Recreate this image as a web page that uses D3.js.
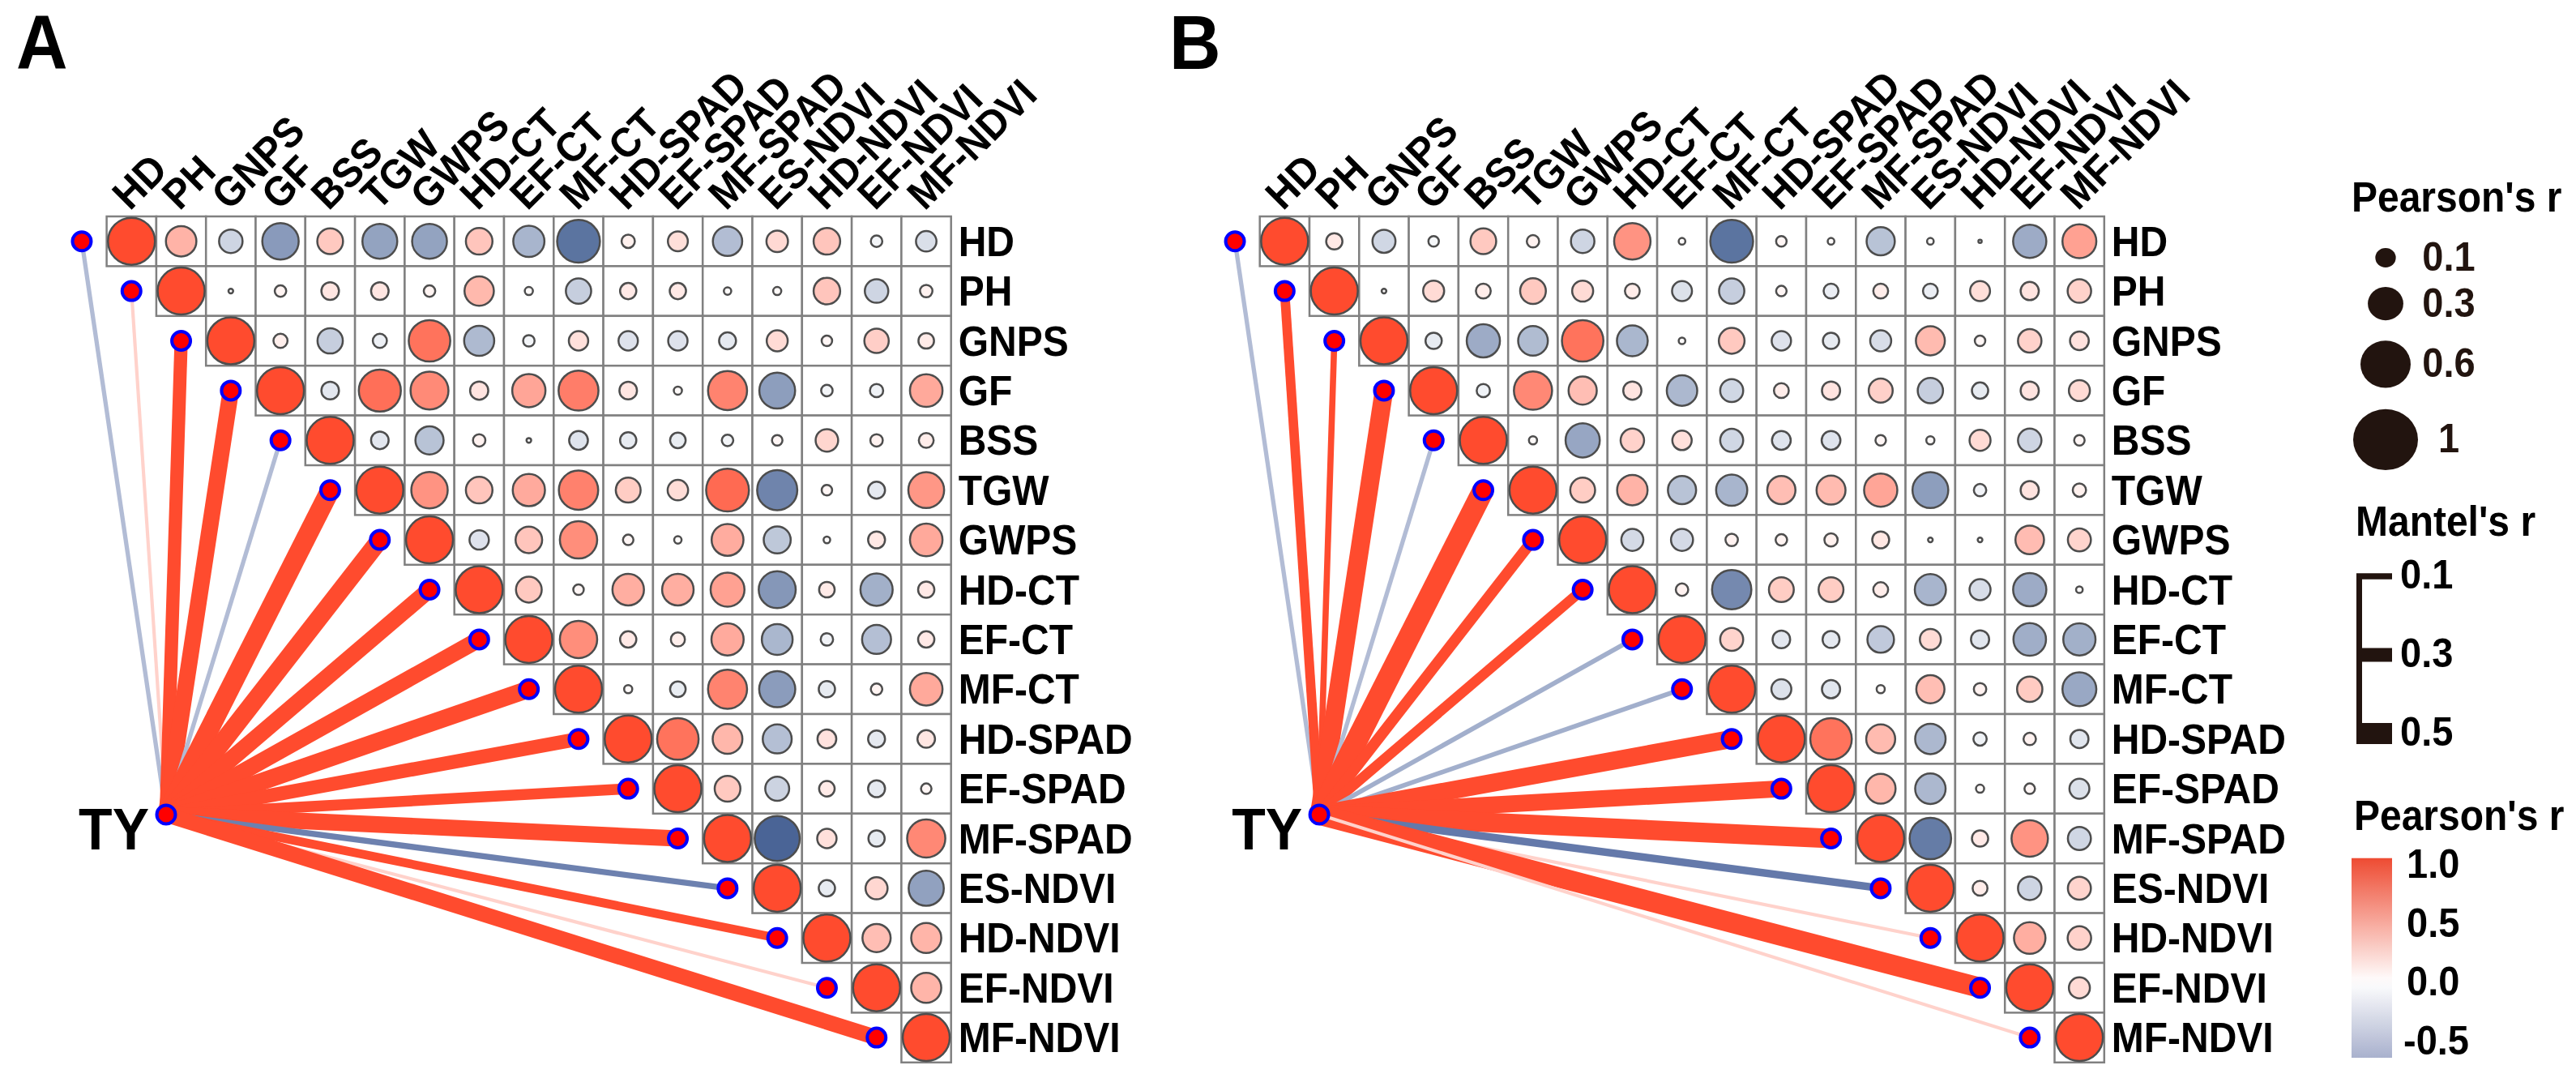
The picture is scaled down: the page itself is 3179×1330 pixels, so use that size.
<!DOCTYPE html>
<html>
<head>
<meta charset="utf-8">
<script src="https://cdn.jsdelivr.net/npm/d3@7"></script>
<style>
  body { margin: 0; background: #fff; }
  svg { display: block; }
  text { font-family: "Liberation Sans", Arial, sans-serif; font-weight: bold; }
</style>
</head>
<body>
<svg id="chart" width="3179" height="1330"></svg>
<script>
const vars = ["HD", "PH", "GNPS", "GF", "BSS", "TGW", "GWPS", "HD-CT", "EF-CT", "MF-CT",
  "HD-SPAD", "EF-SPAD", "MF-SPAD", "ES-NDVI", "HD-NDVI", "EF-NDVI", "MF-NDVI"];

// upper triangle: row i holds Pearson's r against columns i+1 .. 16
const corrA = [
  [0.42, -0.25, -0.6, 0.3, -0.55, -0.55, 0.32, -0.44, -0.83, 0.08, 0.18, -0.39, 0.21, 0.32, -0.06, -0.19],
  [0.01, 0.06, 0.14, 0.14, 0.06, 0.39, 0.03, -0.29, 0.12, 0.12, 0.025, 0.03, 0.32, -0.25, 0.07],
  [0.09, -0.29, -0.09, 0.78, -0.41, -0.06, 0.17, -0.17, -0.17, -0.13, 0.2, 0.05, 0.27, 0.11],
  [-0.14, 0.8, 0.65, 0.15, 0.5, 0.72, 0.14, 0.03, 0.69, -0.58, -0.06, -0.08, 0.48],
  [-0.14, -0.36, 0.07, 0.01, -0.16, -0.12, -0.11, -0.06, 0.05, 0.23, 0.07, 0.1],
  [0.6, 0.32, 0.47, 0.7, 0.28, 0.19, 0.83, -0.73, 0.05, -0.13, 0.58],
  [-0.17, 0.32, 0.63, 0.05, 0.025, 0.46, -0.33, 0.02, 0.13, 0.48],
  [0.3, 0.05, 0.45, 0.45, 0.52, -0.62, 0.11, -0.47, 0.12],
  [0.63, 0.12, 0.09, 0.47, -0.43, -0.07, -0.38, 0.12],
  [0.03, -0.11, 0.69, -0.59, -0.12, 0.06, 0.48],
  [0.78, 0.4, -0.38, 0.16, -0.13, 0.14],
  [0.3, -0.26, 0.11, -0.13, 0.05],
  [-0.92, 0.17, -0.12, 0.66],
  [-0.12, 0.22, -0.56],
  [0.36, 0.41],
  [0.41],
  []
];

const corrB = [
  [0.12, -0.24, -0.05, 0.3, 0.07, -0.25, 0.6, 0.02, -0.83, 0.05, 0.02, -0.36, 0.02, 0.005, -0.5, 0.52],
  [0.01, 0.2, 0.1, 0.3, 0.2, 0.1, -0.18, -0.29, 0.05, -0.1, 0.1, -0.1, 0.18, 0.15, 0.25],
  [-0.12, -0.5, -0.4, 0.78, -0.43, 0.02, 0.3, -0.17, -0.12, -0.2, 0.38, 0.05, 0.25, 0.16],
  [-0.08, 0.66, 0.36, 0.15, -0.42, -0.24, 0.1, 0.15, 0.26, -0.29, -0.12, 0.15, 0.2],
  [0.03, -0.53, 0.25, 0.17, -0.24, -0.16, -0.16, 0.05, 0.03, 0.2, -0.25, 0.05],
  [0.28, 0.42, -0.36, -0.44, 0.36, 0.38, 0.5, -0.58, -0.07, 0.15, 0.08],
  [-0.22, -0.22, 0.07, 0.06, 0.08, 0.13, 0.01, 0.01, 0.37, 0.24],
  [0.07, -0.7, 0.28, 0.28, 0.1, -0.44, -0.2, -0.5, 0.02],
  [0.24, -0.14, -0.13, -0.32, 0.2, -0.15, -0.48, -0.47],
  [-0.18, -0.15, 0.03, 0.36, 0.07, 0.29, -0.52],
  [0.78, 0.38, -0.42, -0.08, 0.07, -0.15],
  [0.4, -0.42, 0.03, 0.05, -0.18],
  [-0.78, 0.12, 0.6, -0.24],
  [0.1, -0.25, 0.24],
  [0.45, 0.25],
  [0.2],
  []
];

// Mantel's r between TY and each variable
const mantelA = [-0.05, 0.025, 0.29, 0.375, -0.05, 0.46, 0.42, 0.375, 0.375, 0.4, 0.31, 0.23, 0.375, -0.094, 0.17, 0.025, 0.35];
const mantelB = [-0.05, 0.19, 0.1, 0.43, -0.05, 0.52, 0.23, 0.21, -0.06, -0.06, 0.42, 0.39, 0.46, -0.14, 0.025, 0.48, 0.025];

const panelTags = ["A", "B"];
const hubLabel = "TY";
const sizeBreaks = [0.1, 0.3, 0.6, 1];
const mantelBreaks = [0.1, 0.3, 0.5];
const colorTicks = [1.0, 0.5, 0.0, -0.5];

const cellW = 61.3;
const cellH = 61.4;
const gridTop = 267;
const panelLefts = [131.6, 1554.7];
const stretch = "scale(1,1.07)"; // the source lettering is a little taller than Arial

const fill = d3.scaleLinear().domain([-1, 0, 1]).range(["#3A578D", "#FFFFFF", "#FF4B2E"]);
const radius = d3.scaleSqrt().domain([0, 1]).range([0, 29]);
const linkColor = d3.scaleLinear().domain([-0.1, 0, 0.1]).range(["#6479AA", "#FFFFFF", "#FF4B2E"]).clamp(true);
const linkWidth = d3.scaleLinear().domain([0, 0.5]).range([3, 26]);

function buildCells(corr) {
  const cells = [];
  corr.forEach((row, i) => {
    cells.push({ row: vars[i], col: vars[i], r: 1 });
    row.forEach((r, k) => cells.push({ row: vars[i], col: vars[i + 1 + k], r }));
  });
  return cells;
}

function addText(parent, x, y, size, str) {
  return parent.append("text")
    .attr("transform", `translate(${x},${y}) ${stretch}`)
    .attr("font-size", size)
    .text(str);
}

function drawPanel(svg, left, tag, corr, mantel) {
  const x = d3.scaleBand().domain(vars).range([left, left + cellW * vars.length]);
  const y = d3.scaleBand().domain(vars).range([gridTop, gridTop + cellH * vars.length]);
  const cx = v => x(v) + x.bandwidth() / 2;
  const cy = v => y(v) + y.bandwidth() / 2;
  const g = svg.append("g");

  const hub = { x: left + 73.4, y: 1005 };
  const links = vars.map((v, i) => ({ v, r: mantel[i] }));

  g.append("g").selectAll("line")
    .data(links)
    .join("line")
    .attr("x1", hub.x)
    .attr("y1", hub.y)
    .attr("x2", d => cx(d.v) - cellW)
    .attr("y2", d => cy(d.v))
    .attr("stroke", d => linkColor(d.r))
    .attr("stroke-width", d => linkWidth(Math.abs(d.r)));

  const cells = buildCells(corr);

  g.append("g").selectAll("rect")
    .data(cells)
    .join("rect")
    .attr("x", d => x(d.col))
    .attr("y", d => y(d.row))
    .attr("width", x.bandwidth())
    .attr("height", y.bandwidth())
    .attr("fill", "#fff")
    .attr("stroke", "#808080")
    .attr("stroke-width", 2.5);

  g.append("g").selectAll("circle")
    .data(cells)
    .join("circle")
    .attr("cx", d => cx(d.col))
    .attr("cy", d => cy(d.row))
    .attr("r", d => radius(Math.abs(d.r)))
    .attr("fill", d => fill(d.r))
    .attr("stroke", "#4D4D4D")
    .attr("stroke-width", 2.5);

  // nodes at the end of each Mantel link, plus the hub
  g.append("g").selectAll("circle")
    .data(links)
    .join("circle")
    .attr("cx", d => cx(d.v) - cellW)
    .attr("cy", d => cy(d.v))
    .attr("r", 11.5)
    .attr("fill", "#FF0000")
    .attr("stroke", "#0000FF")
    .attr("stroke-width", 4);

  g.append("circle")
    .attr("cx", hub.x).attr("cy", hub.y).attr("r", 11.5)
    .attr("fill", "#FF0000").attr("stroke", "#0000FF").attr("stroke-width", 4);

  addText(g, hub.x - 21, hub.y + 43, 68, hubLabel).attr("text-anchor", "end");

  g.append("g").selectAll("text")
    .data(vars)
    .join("text")
    .attr("transform", v => `translate(${cx(v) - 2},${gridTop - 6}) rotate(-45) ${stretch}`)
    .attr("font-size", 48)
    .text(v => v);

  g.append("g").selectAll("text")
    .data(vars)
    .join("text")
    .attr("transform", v => `translate(${left + cellW * vars.length + 9},${cy(v) + 18}) ${stretch}`)
    .attr("font-size", 48)
    .text(v => v);

  addText(g, left - 111.6, 85, 88, tag);
}

function drawLegend(svg) {
  const g = svg.append("g").attr("fill", "#000");
  const lx = 2902;

  // size legend
  addText(g, lx, 261, 48, "Pearson's r");
  const legendRadius = d3.scaleSqrt().domain([0, 1]).range([0, 40]);
  const sizeY = [];
  sizeBreaks.forEach((v, i) => {
    sizeY.push(i === 0 ? 318 : sizeY[i - 1] + legendRadius(sizeBreaks[i - 1]) + legendRadius(v) + 22);
  });
  g.append("g").selectAll("ellipse")
    .data(sizeBreaks)
    .join("ellipse")
    .attr("cx", 2944)
    .attr("cy", (d, i) => sizeY[i])
    .attr("rx", d => legendRadius(d))
    .attr("ry", d => legendRadius(d) * 0.94)
    .attr("fill", "#22140F");
  g.append("g").selectAll("text")
    .data(sizeBreaks)
    .join("text")
    .attr("transform", (d, i) => `translate(3022,${sizeY[i] + 16}) ${stretch}`)
    .attr("text-anchor", "middle")
    .attr("font-size", 47)
    .attr("fill", "#22140F")
    .text(d => String(d));

  // Mantel's r width legend
  addText(g, 2907, 661, 48, "Mantel's r");
  const mantelY = d3.scaleLinear().domain([0.1, 0.5]).range([711, 905]);
  g.append("line")
    .attr("x1", 2911.5).attr("x2", 2911.5)
    .attr("y1", mantelY(0.1) - 3).attr("y2", mantelY(0.5) + 13)
    .attr("stroke", "#22140F").attr("stroke-width", 7);
  g.append("g").selectAll("line")
    .data(mantelBreaks)
    .join("line")
    .attr("x1", 2908).attr("x2", 2952)
    .attr("y1", d => mantelY(d)).attr("y2", d => mantelY(d))
    .attr("stroke", "#22140F")
    .attr("stroke-width", d => linkWidth(d));
  g.append("g").selectAll("text")
    .data(mantelBreaks)
    .join("text")
    .attr("transform", d => `translate(2962,${mantelY(d) + 15}) ${stretch}`)
    .attr("font-size", 47)
    .text(d => d.toFixed(1));

  // colour bar
  addText(g, 2905, 1024, 48, "Pearson's r");
  const colorY = d3.scaleLinear().domain([1, -0.5]).range([1066, 1284]);
  const barTop = 1.05, barBottom = -0.645;
  const barColor = d3.scaleLinear().domain([barBottom, 0, barTop]).range(["#A9B1CD", "#FFFFFF", "#EE4B32"]);
  const grad = svg.append("defs").append("linearGradient")
    .attr("id", "bar").attr("x1", 0).attr("x2", 0).attr("y1", 0).attr("y2", 1);
  d3.range(0, 1.0001, 0.05).forEach(t => {
    const v = barTop + (barBottom - barTop) * t;
    grad.append("stop").attr("offset", t).attr("stop-color", barColor(v));
  });
  g.append("rect")
    .attr("x", 2902).attr("width", 50)
    .attr("y", colorY(barTop)).attr("height", colorY(barBottom) - colorY(barTop))
    .attr("fill", "url(#bar)");
  g.append("g").selectAll("text")
    .data(colorTicks)
    .join("text")
    .attr("transform", d => `translate(${d < 0 ? 2966 : 2970},${colorY(d) + 17}) ${stretch}`)
    .attr("font-size", 47)
    .text(d => d.toFixed(1));
}

const svg = d3.select("#chart");
svg.append("rect").attr("width", 3179).attr("height", 1330).attr("fill", "#fff");
drawPanel(svg, panelLefts[0], panelTags[0], corrA, mantelA);
drawPanel(svg, panelLefts[1], panelTags[1], corrB, mantelB);
drawLegend(svg);
</script>
</body>
</html>
